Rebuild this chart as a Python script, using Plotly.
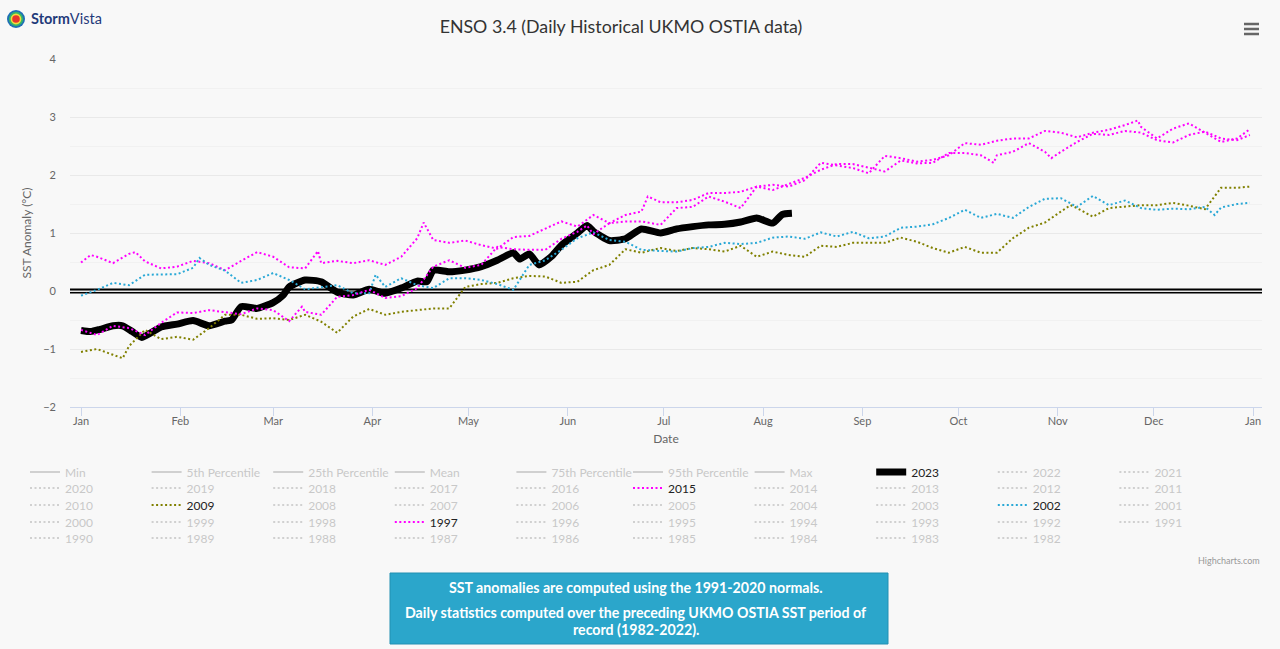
# plot.py
# ENSO 3.4 daily SST anomalies, selected years against 2023

import pandas as pd
import plotly.graph_objects as go

# Day of year (0 = Jan 1) shared by the full-year series, axis runs on a leap year
days = list(range(0, 180, 5)) + list(range(181, 362, 5)) + [365]

sst_2015 = [0.49, 0.59, 0.48, 0.64, 0.51, 0.39, 0.42, 0.52, 0.48, 0.36,
            0.52, 0.67, 0.59, 0.41, 0.39, 0.48, 0.52, 0.48, 0.53, 0.45,
            0.59, 0.91, 0.88, 0.83, 0.87, 0.79, 0.73, 0.93, 0.95, 1.07,
            1.20, 1.11, 1.31, 1.17, 1.31, 1.37, 1.53, 1.53, 1.57, 1.69,
            1.69, 1.71, 1.80, 1.83, 1.80, 1.91, 2.21, 2.17, 2.12, 2.03,
            2.33, 2.29, 2.23, 2.26, 2.34, 2.55, 2.52, 2.59, 2.63, 2.63,
            2.76, 2.73, 2.65, 2.73, 2.78, 2.86, 2.83, 2.63, 2.80, 2.89,
            2.73, 2.57, 2.63, 2.79]

sst_1997 = [-0.67, -0.76, -0.60, -0.64, -0.76, -0.55, -0.37, -0.38, -0.33, -0.36,
            -0.40, -0.30, -0.33, -0.52, -0.36, -0.41, -0.10, -0.07, 0.02, -0.12,
            -0.09, 0.05, 0.42, 0.53, 0.40, 0.45, 0.76, 0.72, 0.71, 0.71,
            0.90, 1.02, 0.98, 1.17, 1.20, 1.20, 1.14, 1.43, 1.45, 1.63,
            1.54, 1.43, 1.80, 1.74, 1.84, 1.95, 2.09, 2.19, 2.19, 2.12,
            2.06, 2.25, 2.20, 2.21, 2.38, 2.38, 2.34, 2.34, 2.40, 2.55,
            2.40, 2.40, 2.57, 2.71, 2.69, 2.76, 2.73, 2.60, 2.56, 2.69,
            2.75, 2.63, 2.60, 2.69]

sst_2002 = [-0.08, 0.02, 0.14, 0.10, 0.28, 0.28, 0.29, 0.40, 0.45, 0.35,
            0.14, 0.19, 0.31, 0.19, 0.03, 0.07, 0.10, -0.04, -0.04, 0.07,
            0.22, 0.10, 0.05, 0.22, 0.22, 0.19, 0.12, 0.02, 0.45, 0.53,
            0.71, 0.91, 1.01, 0.88, 0.85, 0.71, 0.69, 0.68, 0.74, 0.76,
            0.83, 0.81, 0.83, 0.92, 0.94, 0.90, 1.01, 0.94, 1.02, 0.91,
            0.94, 1.09, 1.11, 1.15, 1.26, 1.40, 1.26, 1.33, 1.26, 1.45,
            1.59, 1.60, 1.45, 1.64, 1.48, 1.56, 1.43, 1.40, 1.42, 1.41,
            1.45, 1.44, 1.50, 1.52]

sst_2009 = [-1.05, -1.00, -1.10, -0.95, -0.67, -0.83, -0.79, -0.84, -0.64, -0.41,
            -0.41, -0.48, -0.47, -0.50, -0.41, -0.53, -0.72, -0.44, -0.31, -0.41,
            -0.36, -0.33, -0.30, -0.30, 0.07, 0.12, 0.14, 0.22, 0.26, 0.25,
            0.14, 0.16, 0.36, 0.45, 0.72, 0.66, 0.74, 0.69, 0.74, 0.72,
            0.68, 0.78, 0.59, 0.68, 0.62, 0.59, 0.78, 0.76, 0.83, 0.83,
            0.83, 0.92, 0.85, 0.74, 0.66, 0.76, 0.66, 0.66, 0.91, 1.09,
            1.18, 1.37, 1.43, 1.28, 1.43, 1.45, 1.48, 1.48, 1.52, 1.47,
            1.41, 1.78, 1.78, 1.80]

# Spikes and dips that fall between the 5 day samples
peak_days_2015 = [3, 17, 74, 107, 177, 330]
peak_sst_2015 = [0.62, 0.67, 0.69, 1.18, 1.63, 2.94]
peak_days_1997 = [69, 158, 285, 303]
peak_sst_1997 = [-0.27, 1.13, 2.21, 2.29]
peak_days_2002 = [37, 92, 354]
peak_sst_2002 = [0.57, 0.28, 1.31]
peak_days_2009 = [13, 309]
peak_sst_2009 = [-1.16, 1.48]

# 2023 stops in August and has its own sampling
days_2023 = [0, 3, 6, 10, 13, 16, 19, 25, 30, 35, 40, 45, 47, 50, 55, 60, 63, 65,
             70, 75, 80, 85, 90, 95, 100, 105, 108, 110, 115, 120, 125, 130, 135,
             137, 140, 143, 147, 150, 155, 158, 160, 165, 170, 175, 181, 186, 191,
             196, 201, 206, 211, 216, 219, 222]
sst_2023 = [-0.68, -0.70, -0.66, -0.60, -0.60, -0.70, -0.80, -0.62, -0.57, -0.51,
            -0.60, -0.52, -0.50, -0.27, -0.30, -0.20, -0.08, 0.07, 0.19, 0.16,
            -0.02, -0.07, 0.03, -0.04, 0.05, 0.17, 0.16, 0.36, 0.33, 0.36,
            0.42, 0.53, 0.66, 0.55, 0.64, 0.45, 0.60, 0.79, 1.00, 1.13,
            1.03, 0.87, 0.90, 1.07, 1.00, 1.07, 1.11, 1.14, 1.15, 1.19,
            1.26, 1.17, 1.32, 1.34]

month_ticks = ["2024-01-01", "2024-02-01", "2024-03-01", "2024-04-01", "2024-05-01",
               "2024-06-01", "2024-07-01", "2024-08-01", "2024-09-01", "2024-10-01",
               "2024-11-01", "2024-12-01", "2025-01-01"]
month_labels = ["Jan", "Feb", "Mar", "Apr", "May", "Jun", "Jul", "Aug", "Sep", "Oct",
                "Nov", "Dec", "Jan"]

legend_rows = [
    ["Min", "5th Percentile", "25th Percentile", "Mean", "75th Percentile",
     "95th Percentile", "Max", "2023", "2022", "2021"],
    ["2020", "2019", "2018", "2017", "2016", "2015", "2014", "2013", "2012", "2011"],
    ["2010", "2009", "2008", "2007", "2006", "2005", "2004", "2003", "2002", "2001"],
    ["2000", "1999", "1998", "1997", "1996", "1995", "1994", "1993", "1992", "1991"],
    ["1990", "1989", "1988", "1987", "1986", "1985", "1984", "1983", "1982"],
]

W, H = 1280, 649
PLOT_L, PLOT_R, PLOT_T, PLOT_B = 70, 1262, 59, 407
FONT = "Lato"
DOTS = "2px,2.5px"


def px_x(x):
    return (x - PLOT_L) / (PLOT_R - PLOT_L)


def px_y(y):
    return (PLOT_B - y) / (PLOT_B - PLOT_T)


def to_dates(day_list):
    return pd.Timestamp("2024-01-01") + pd.to_timedelta(day_list, unit="D")


def merged(grid_days, grid_sst, peak_days, peak_sst):
    pairs = sorted(zip(list(grid_days) + peak_days, list(grid_sst) + peak_sst))
    return [p[0] for p in pairs], [p[1] for p in pairs]


# Years that are switched on in the chart
shown = {
    "2023": (days_2023, sst_2023, dict(color="#000000", width=7, shape="spline", smoothing=0.5)),
    "2015": (*merged(days, sst_2015, peak_days_2015, peak_sst_2015),
             dict(color="#ff00ff", width=2, dash=DOTS)),
    "2009": (*merged(days, sst_2009, peak_days_2009, peak_sst_2009),
             dict(color="#808000", width=2, dash=DOTS)),
    "2002": (*merged(days, sst_2002, peak_days_2002, peak_sst_2002),
             dict(color="#29a8d6", width=2, dash=DOTS)),
    "1997": (*merged(days, sst_1997, peak_days_1997, peak_sst_1997),
             dict(color="#ff00ff", width=2, dash=DOTS)),
}

fig = go.Figure()

# Each legend row is cut in two legends, ten entries do not fit in one
row_y = [472, 488, 505, 522, 538]
legends = {}
n = 0
for row, y in zip(legend_rows, row_y):
    for part, text_x in [(row[:5], 65), (row[5:], 668)]:
        n += 1
        key = "legend" if n == 1 else f"legend{n}"
        legends[key] = dict(
            orientation="h", x=px_x(text_x - 40), y=px_y(y), xanchor="left", yanchor="middle",
            entrywidth=76.6, entrywidthmode="pixels", bgcolor="rgba(0,0,0,0)",
            font=dict(family=FONT, size=12, color="#999999"), itemclick=False,
            itemdoubleclick=False)
        for name in part:
            if name in shown:
                d, v, line = shown[name]
                fig.add_trace(go.Scatter(
                    x=to_dates(d), y=v, mode="lines", line=line,
                    name=f"<span style='color:#222222'>{name}</span>",
                    legend=key, hoverinfo="x+y"))
            else:
                # Switched off series only exist as a greyed legend entry
                dash = "solid" if not name.isdigit() else DOTS
                fig.add_trace(go.Scatter(
                    x=[None], y=[None], mode="lines", visible="legendonly",
                    line=dict(color="#aaaaaa", width=2, dash=dash),
                    name=name, legend=key))

# Zero line is a black band with a grey centre
shapes = [
    dict(type="line", xref="paper", yref="y", x0=0, x1=1, y0=0, y1=0,
         line=dict(color="#000000", width=5), layer="below"),
    dict(type="line", xref="paper", yref="y", x0=0, x1=1, y0=0, y1=0,
         line=dict(color="#999999", width=1.5), layer="below"),
]

# Export menu icon
for y in [24, 29, 34]:
    shapes.append(dict(type="line", xref="paper", yref="paper",
                       x0=px_x(1244), x1=px_x(1259), y0=px_y(y), y1=px_y(y),
                       line=dict(color="#666666", width=2.5)))

# Logo badge
logo_rings = [(9.0, "#1f6fb5"), (7.2, "#35b56a"), (5.4, "#f2dc3c"), (3.8, "#e8352c")]
for r, color in logo_rings:
    shapes.append(dict(type="circle", xref="paper", yref="paper",
                       x0=px_x(16 - r), x1=px_x(16 + r), y0=px_y(19 - r), y1=px_y(19 + r),
                       fillcolor=color, line_width=0))

# Note box under the chart
shapes.append(dict(type="rect", xref="paper", yref="paper",
                   x0=px_x(390), x1=px_x(888), y0=px_y(573), y1=px_y(644),
                   fillcolor="#2ba6cb", line=dict(color="#2390b2", width=1)))

note_lines = [
    ("SST anomalies are computed using the 1991-2020 normals.", 587),
    ("Daily statistics computed over the preceding UKMO OSTIA SST period of", 612.5),
    ("record (1982-2022).", 629.5),
]
annotations = [
    dict(text=text, xref="paper", yref="paper", x=px_x(636), y=px_y(y), showarrow=False,
         xanchor="center", yanchor="middle",
         font=dict(family=FONT, size=14.2, color="#ffffff", weight="bold"))
    for text, y in note_lines
]
annotations.append(dict(text="Highcharts.com", xref="paper", yref="paper", x=px_x(1262),
                        y=px_y(560), xanchor="right", yanchor="middle", showarrow=False,
                        font=dict(family=FONT, size=9, color="#999999")))
annotations.append(dict(text="<b>Storm</b>Vista", xref="paper", yref="paper", x=px_x(29),
                        y=px_y(19), xanchor="left", yanchor="middle", showarrow=False,
                        font=dict(family=FONT, size=14.5, color="#1f3a7a")))

fig.update_layout(
    width=W, height=H,
    margin=dict(l=PLOT_L, r=W - PLOT_R, t=PLOT_T, b=H - PLOT_B, autoexpand=False),
    paper_bgcolor="#f8f8f8", plot_bgcolor="#f8f8f8",
    title=dict(text="ENSO 3.4 (Daily Historical UKMO OSTIA data)", x=621 / W, xanchor="center",
               y=1 - 27 / H, yanchor="middle", font=dict(family=FONT, size=17.8, color="#333333")),
    font=dict(family=FONT, size=11, color="#666666"),
    shapes=shapes, annotations=annotations, showlegend=True,
    **legends,
)

fig.update_xaxes(
    type="date", range=["2023-12-28 13:30", "2025-01-03 19:00"],
    tickmode="array", tickvals=month_ticks, ticktext=month_labels,
    showgrid=False, zeroline=False, showline=True, linecolor="#ccd6eb", linewidth=1,
    ticks="outside", ticklen=8, tickcolor="#ccd6eb", ticklabelstandoff=-4,
    title=dict(text="Date", font=dict(size=12, color="#666666"), standoff=8),
)
fig.update_yaxes(
    range=[-2, 4], dtick=1, gridcolor="#e9e9e9", gridwidth=1, zeroline=False,
    minor=dict(dtick=0.5, showgrid=True, gridcolor="#f1f1f1", gridwidth=1),
    ticks="", ticklabelstandoff=13,
    title=dict(text="SST Anomaly (°C)", font=dict(size=12, color="#666666"), standoff=9),
)

# The page has a default body margin, drop it so the figure fills the window
fig.write_html("out.html", config={"displayModeBar": False},
               post_script="document.body.style.margin='0';document.body.style.background='#f8f8f8';")
